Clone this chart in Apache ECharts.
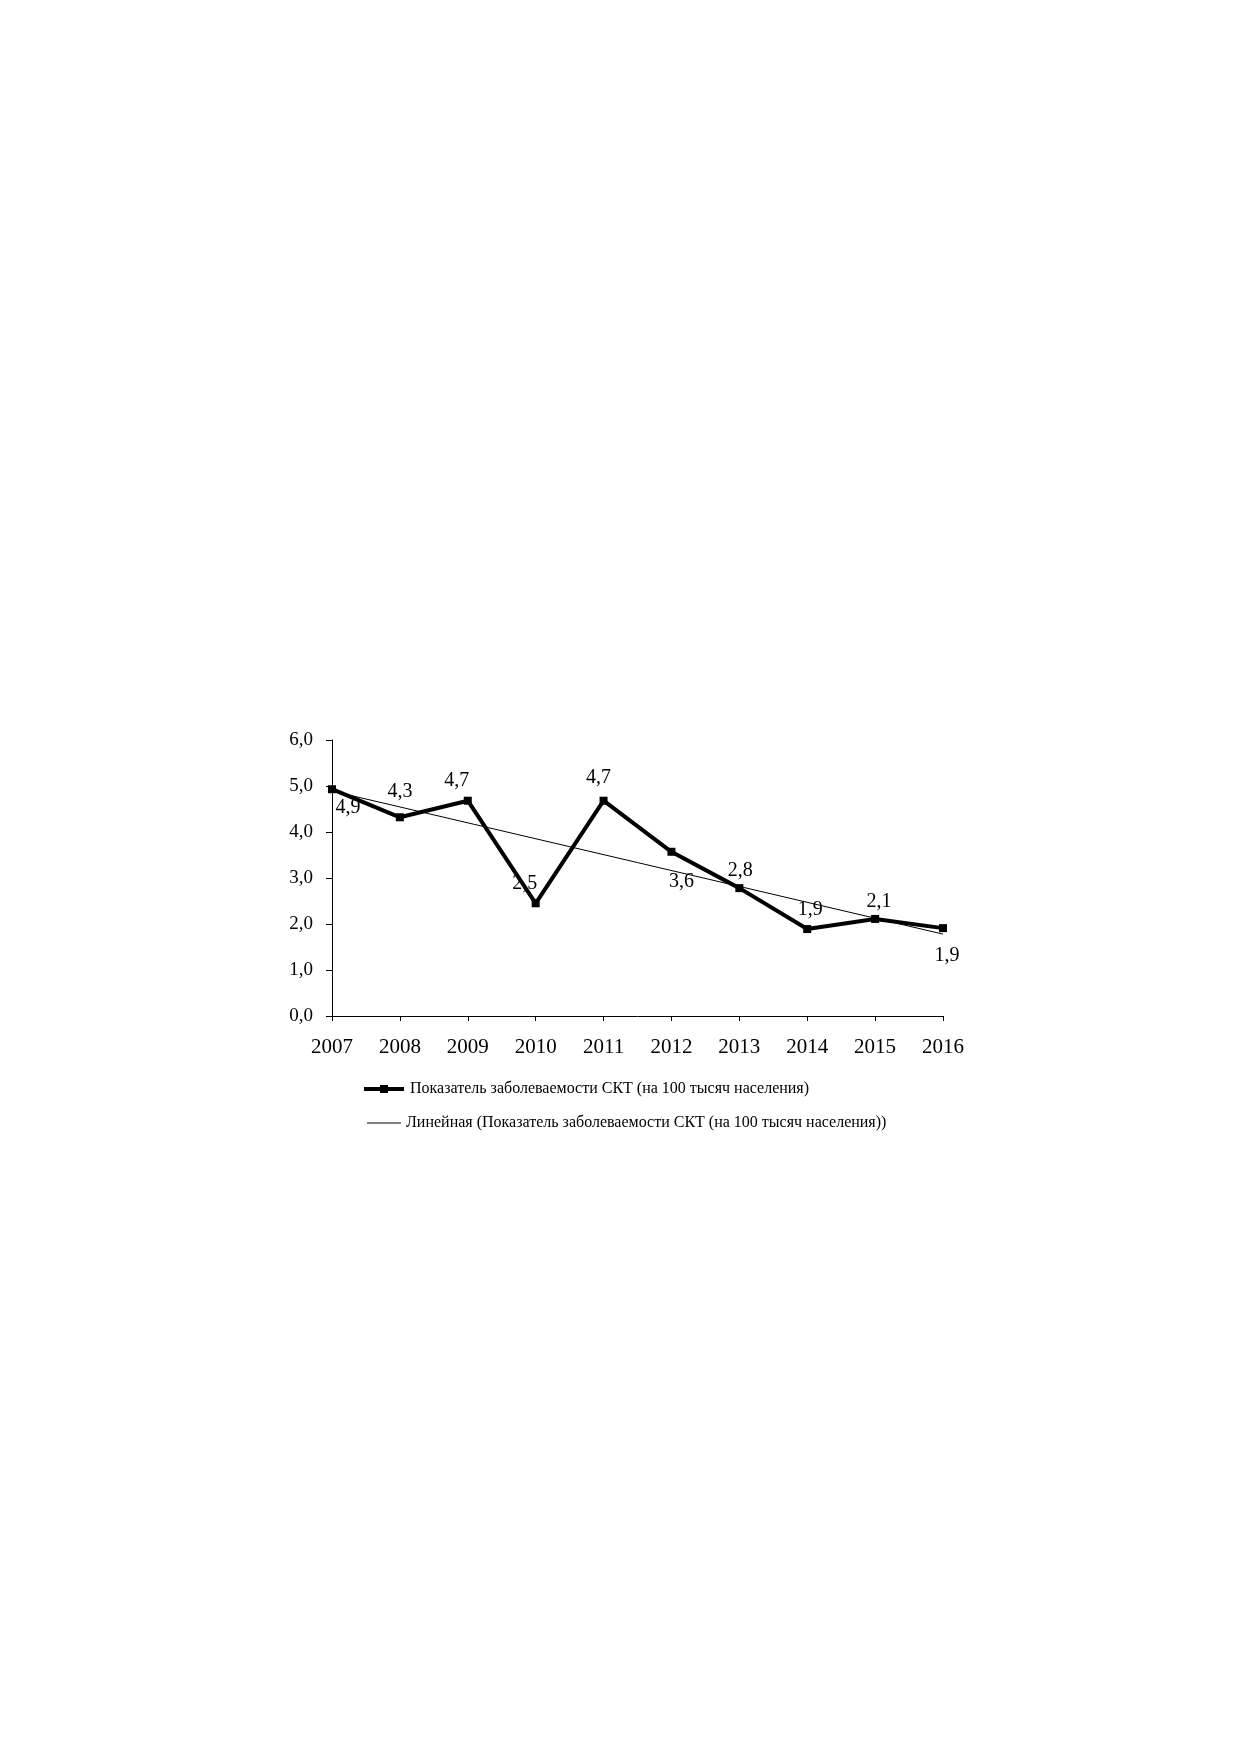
<!DOCTYPE html>
<html>
<head>
    <meta charset="UTF-8">
    <title>chart</title>
    <script src="https://cdn.jsdelivr.net/npm/echarts@6/dist/echarts.min.js"></script>
    <style>
        *{margin:0;padding:0}
        html,body{width:100%;height:100%;background:#fff}
        #main{width:1239px;height:1754px}
    </style>
</head>
<body>
<div id="main"></div>
<script type="text/javascript">
    // годы
    var years = ['2007', '2008', '2009', '2010', '2011', '2012', '2013', '2014', '2015', '2016'];
    // показатель заболеваемости (на 100 тысяч)
    var incidence = [4.93, 4.32, 4.68, 2.45, 4.68, 3.57, 2.78, 1.89, 2.11, 1.91];
    // линейный тренд: значения на концах
    var trendStart = 4.89;
    var trendEnd = 1.78;
    var yTicks = [0, 1, 2, 3, 4, 5, 6];

    var seriesName = 'Показатель заболеваемости СКТ (на 100 тысяч населения)';
    var trendName = 'Линейная (Показатель заболеваемости СКТ (на 100 тысяч населения))';

    // смещения подписей относительно точки
    var labelOffsets = [[16, 19], [0, -26], [-11, -20], [-11, -20], [-5, -23],
        [10, 30], [1, -17], [3, -19], [4, -17], [4, 28]];

    var mainData = incidence.map(function (v, i) {
        return {value: v, label: {offset: labelOffsets[i]}};
    });
    var trendData = years.map(function (y, i) {
        if (i === 0) return trendStart;
        if (i === years.length - 1) return trendEnd;
        return null;
    });

    var fmt = function (v) { return Number(v).toFixed(1).replace('.', ','); };
    var serif = 'Liberation Serif';

    var myChart = echarts.init(document.getElementById('main'));
    var option = {
        animation: false,
        backgroundColor: '#fff',
        grid: {left: 332, right: 296, top: 740, bottom: 738},
        legend: [
            {
                // толстая линия с квадратным маркером
                data: [{name: seriesName, icon: 'path://M0,2H16V0H24V2H40V6H24V8H16V6H0Z'}],
                left: 359, top: 1076,
                itemWidth: 42, itemHeight: 8,
                itemStyle: {color: '#000'},
                textStyle: {fontFamily: serif, fontSize: 16, color: '#000'}
            },
            {
                data: [{name: trendName, icon: 'rect'}],
                left: 362, top: 1110,
                itemWidth: 34, itemHeight: 1,
                itemStyle: {color: '#000'},
                textStyle: {fontFamily: serif, fontSize: 16, color: '#000'}
            }
        ],
        xAxis: {
            type: 'category',
            data: years,
            boundaryGap: false,
            axisLine: {lineStyle: {color: '#000', width: 1}},
            axisTick: {show: true, length: 5, lineStyle: {color: '#000'}},
            axisLabel: {margin: 21, fontFamily: serif, fontSize: 21, color: '#000'},
            splitLine: {show: false}
        },
        yAxis: {
            type: 'value',
            min: yTicks[0],
            max: yTicks[yTicks.length - 1],
            interval: 1,
            axisLine: {show: true, lineStyle: {color: '#000', width: 1}},
            axisTick: {show: true, length: 6, lineStyle: {color: '#000'}},
            axisLabel: {margin: 19, fontFamily: serif, fontSize: 19, color: '#000', formatter: fmt},
            splitLine: {show: false}
        },
        series: [
            {
                name: seriesName,
                type: 'line',
                data: mainData,
                symbol: 'rect',
                symbolSize: 8,
                itemStyle: {color: '#000'},
                lineStyle: {color: '#000', width: 4},
                z: 3,
                label: {
                    show: true,
                    position: 'inside',
                    fontFamily: serif,
                    fontSize: 20,
                    color: '#000',
                    formatter: function (p) { return fmt(p.value); }
                }
            },
            {
                name: trendName,
                type: 'line',
                data: trendData,
                connectNulls: true,
                symbol: 'none',
                itemStyle: {color: '#000'},
                lineStyle: {color: '#000', width: 1},
                z: 2
            }
        ]
    };
    myChart.setOption(option);
</script>
</body>
</html>
